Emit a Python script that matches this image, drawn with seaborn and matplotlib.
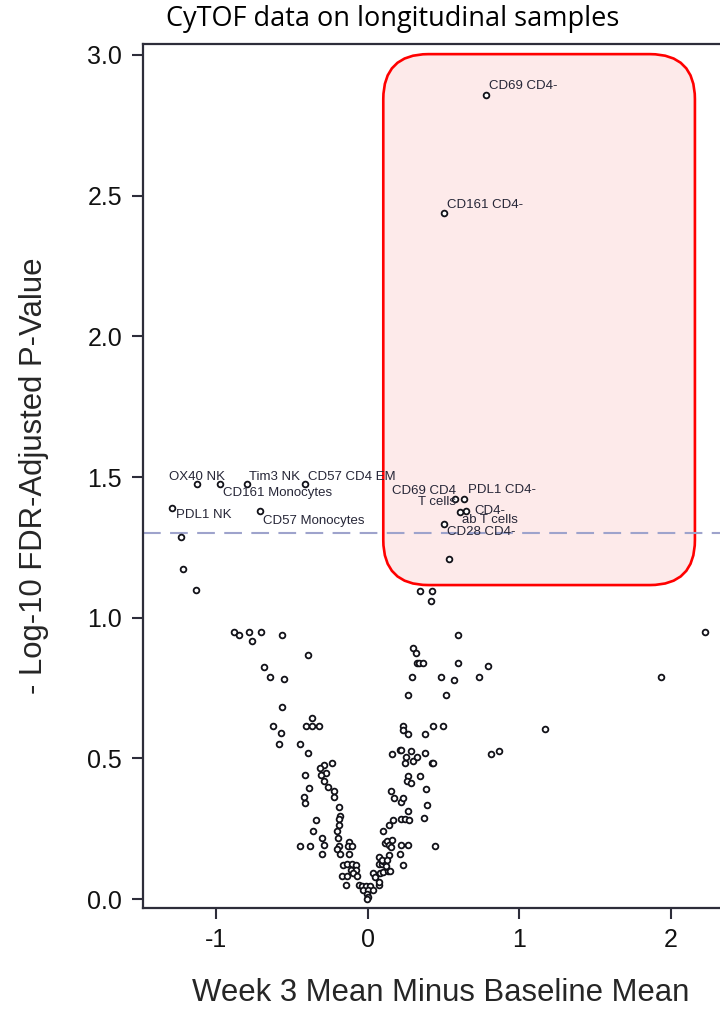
import numpy as np
import pandas as pd
import matplotlib
matplotlib.use("Agg")
import matplotlib.pyplot as plt
from matplotlib.patches import FancyBboxPatch
import seaborn as sns

# ── Data ──────────────────────────────────────────────────────────────────────
label_names = ["OX40 NK", "CD161 Monocytes", "Tim3 NK", "CD57 CD4 EM",
               "PDL1 NK", "CD57 Monocytes", "CD69 CD4-", "CD161 CD4-",
               "CD69 CD4\nT cells", "PDL1 CD4-", "CD4-\nab T cells", "CD28 CD4-"]
label_x = [-1.130, -0.980, -0.797, -0.417, -1.296, -0.715,
           0.777, 0.503, 0.574, 0.631, 0.649, 0.499]
label_y = [1.475, 1.474, 1.475, 1.474, 1.391, 1.379,
           2.857, 2.439, 1.422, 1.422, 1.379, 1.332]

other_x = [-1.234, -1.219, -1.132, -0.885, -0.850, -0.788, -0.766, -0.707, -0.565,
           -0.395, -0.684, -0.644, -0.552, -0.565, -0.371, -0.625, -0.406, -0.369,
           -0.325, -0.576, -0.589, -0.450, -0.393, -0.240, -0.287, -0.318, -0.278,
           -0.309, -0.417, -0.287, -0.389, -0.263, -0.227, -0.227, -0.424, -0.419,
           -0.192, -0.183, -0.190, -0.344, -0.190, -0.366, -0.203, -0.303, -0.199,
           -0.450, -0.384, -0.289, -0.124, -0.190, -0.134, -0.106, -0.207, -0.303,
           -0.187, -0.124, -0.168, -0.139, -0.108, -0.081, -0.113, -0.081, -0.172,
           -0.141, -0.097, -0.071, -0.146, -0.062, -0.040, -0.013, 0.013, -0.031,
           0.002, -0.009, 0.002, -0.009, 0.031, 0.071, 0.075, 0.035, 0.048, 0.079,
           0.101, 0.130, 0.144, 0.071, 0.095, 0.117, 0.071, 0.101, 0.137, 0.093,
           0.124, 0.230, 0.212, 0.097, 0.115, 0.128, 0.141, 0.159, 0.150, 0.217,
           0.267, 0.444, 0.141, 0.166, 0.217, 0.247, 0.270, 0.373, 0.267, 0.389,
           0.217, 0.234, 0.170, 0.150, 0.386, 0.267, 0.260, 0.287, 0.344, 0.247,
           0.300, 0.422, 0.430, 0.157, 0.210, 0.219, 0.283, 0.379, 0.254, 0.326,
           0.815, 0.868, 0.230, 0.234, 0.263, 0.428, 0.492, 0.377, 1.168, 0.267,
           0.515, 0.291, 0.485, 0.568, 0.735, 1.936, 0.790, 0.591, 0.323, 0.336,
           0.362, 0.296, 0.316, 0.594, 2.223, 0.344, 0.422, 0.413, 0.532, 0.609]
other_y = [1.288, 1.173, 1.098, 0.950, 0.939, 0.950, 0.918, 0.950, 0.939,
           0.866, 0.824, 0.789, 0.783, 0.684, 0.643, 0.614, 0.614, 0.614,
           0.614, 0.589, 0.552, 0.552, 0.519, 0.482, 0.477, 0.466, 0.449,
           0.440, 0.440, 0.421, 0.394, 0.399, 0.385, 0.362, 0.362, 0.340,
           0.328, 0.295, 0.285, 0.282, 0.264, 0.243, 0.241, 0.217, 0.217,
           0.187, 0.187, 0.191, 0.202, 0.187, 0.187, 0.187, 0.177, 0.159,
           0.160, 0.160, 0.122, 0.124, 0.124, 0.122, 0.103, 0.103, 0.081,
           0.083, 0.091, 0.081, 0.051, 0.051, 0.046, 0.046, 0.046, 0.032,
           0.032, 0.018, 0.006, 0.000, 0.032, 0.049, 0.060, 0.091, 0.077, 0.091,
           0.097, 0.101, 0.100, 0.124, 0.124, 0.117, 0.150, 0.135, 0.156, 0.139,
           0.139, 0.122, 0.159, 0.241, 0.198, 0.205, 0.191, 0.210, 0.184, 0.191,
           0.191, 0.187, 0.264, 0.281, 0.285, 0.285, 0.281, 0.287, 0.314, 0.334,
           0.345, 0.358, 0.360, 0.385, 0.392, 0.437, 0.421, 0.413, 0.437, 0.482,
           0.491, 0.482, 0.482, 0.517, 0.529, 0.529, 0.526, 0.519, 0.505, 0.505,
           0.517, 0.526, 0.614, 0.601, 0.588, 0.614, 0.614, 0.588, 0.604, 0.724,
           0.726, 0.789, 0.789, 0.777, 0.789, 0.789, 0.829, 0.840, 0.840, 0.840,
           0.840, 0.894, 0.873, 0.937, 0.950, 1.095, 1.095, 1.060, 1.208, 1.377]

THRESHOLD = -np.log10(0.05)

# highlight box (data units)
BOX_X0, BOX_X1 = 0.101, 2.158
BOX_Y0, BOX_Y1 = 1.116, 3.003

# label offsets in pixels: (dx, dy, ha, linespacing)
LABEL_POS = {
    "OX40 NK":           (-28, 7, "left", 1.0),
    "CD161 Monocytes":   (3, -9, "left", 1.0),
    "Tim3 NK":           (2, 7, "left", 1.0),
    "CD57 CD4 EM":       (3, 7, "left", 1.0),
    "PDL1 NK":           (4, -7, "left", 1.0),
    "CD57 Monocytes":    (3, -10, "left", 1.0),
    "CD69 CD4-":         (3, 9, "left", 1.0),
    "CD161 CD4-":        (3, 8, "left", 1.0),
    "CD69 CD4\nT cells": (1, 2.5, "right", 0.95),
    "PDL1 CD4-":         (4, 9, "left", 1.0),
    "CD4-\nab T cells":  (24, -4.5, "center", 0.72),
    "CD28 CD4-":         (3, -8, "left", 1.0),
}

# ── Style ─────────────────────────────────────────────────────────────────────
sns.set_style("ticks")
plt.rcParams.update({
    "font.family": ["Liberation Sans", "DejaVu Sans"],
    "axes.unicode_minus": False,
    "axes.edgecolor": "#2d2d3a",
    "axes.linewidth": 1.6,
    "xtick.color": "#2d2d3a",
    "ytick.color": "#2d2d3a",
    "xtick.labelcolor": "#111111",
    "ytick.labelcolor": "#111111",
})

df = pd.DataFrame({
    "diff": label_x + other_x,
    "logp": label_y + other_y,
})

fig = plt.figure(figsize=(7.2, 10.09), dpi=100)
ax = fig.add_axes([0.19861, 0.10059, 0.8280, 0.8558])

XLIM = (-1.485, 2.45)
YLIM = (-0.030, 3.039)

box = FancyBboxPatch((BOX_X0, BOX_Y0), BOX_X1 - BOX_X0, BOX_Y1 - BOX_Y0,
                     boxstyle="round,pad=0,rounding_size=0.297",
                     mutation_aspect=0.5386,
                     facecolor="#fdeaea", edgecolor="#ff0000",
                     linewidth=1.9, zorder=1)
ax.add_patch(box)

ax.axhline(THRESHOLD, color="#9ea3cc", linewidth=1.5,
           dashes=(8.5, 4.5), zorder=2)

sns.scatterplot(data=df, x="diff", y="logp", ax=ax, marker="o", s=17,
                facecolor="white", edgecolor="#111118", linewidth=1.3,
                zorder=3, legend=False)

for name, x, y in zip(label_names, label_x, label_y):
    dx, dy, ha, ls = LABEL_POS[name]
    ax.annotate(name, (x, y), xytext=(dx, dy), textcoords="offset pixels",
                ha=ha, va="center", fontsize=9.5, color="#262637",
                linespacing=ls, multialignment=ha, zorder=4)

ax.set_xlim(*XLIM)
ax.set_ylim(*YLIM)
ax.set_xticks([-1, 0, 1, 2])
ax.set_yticks(np.arange(0, 3.01, 0.5))
ax.yaxis.set_major_formatter(matplotlib.ticker.FormatStrFormatter("%.1f"))
ax.tick_params(axis="both", length=8, width=1.5, labelsize=18, pad=7)

ax.set_xlabel("Week 3 Mean Minus Baseline Mean", fontsize=22.4)
ax.set_ylabel("- Log-10 FDR-Adjusted P-Value", fontsize=22.4)
ax.xaxis.set_label_coords(0.5, -0.082)
ax.yaxis.set_label_coords(-0.158, 0.5)

fig.text(0.546, 0.981, "CyTOF data on longitudinal samples",
         fontsize=19.5, family=["Open Sans", "DejaVu Sans"],
         ha="center", va="center", color="#000000")

fig.savefig("out.png", dpi=100)
